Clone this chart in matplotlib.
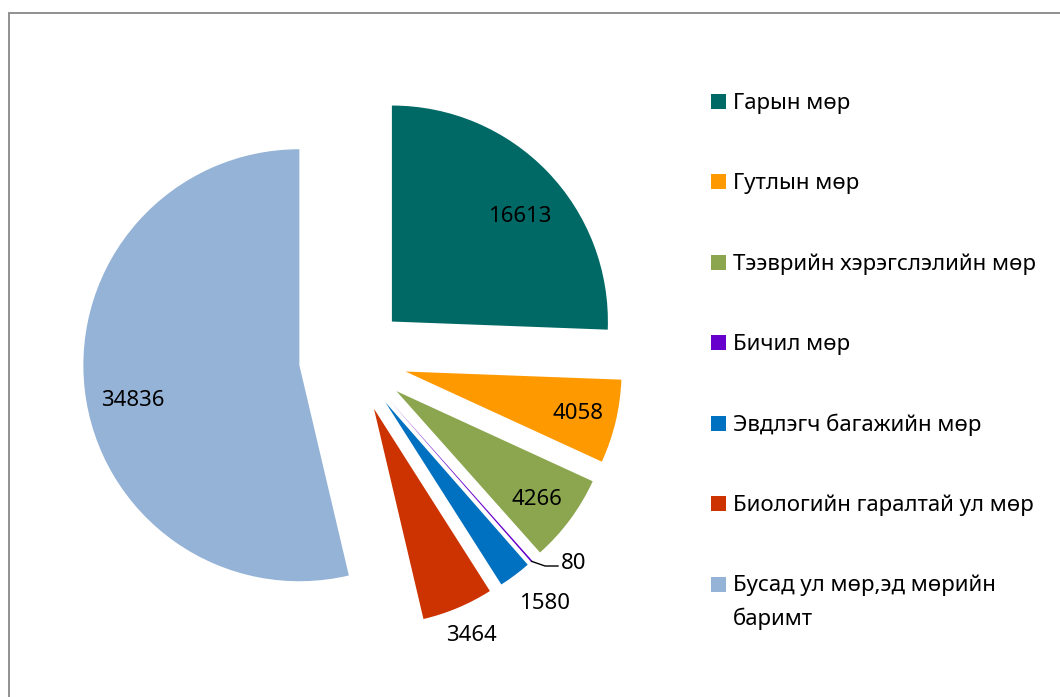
import numpy as np
import matplotlib
matplotlib.use("Agg")
import matplotlib.pyplot as plt
from matplotlib.patches import Rectangle

plt.rcParams['font.family'] = ['Noto Sans', 'DejaVu Sans']

# --- data -------------------------------------------------------------
categories = [
    "Гарын мөр",
    "Гутлын мөр",
    "Тээврийн хэрэгслэлийн мөр",
    "Бичил мөр",
    "Эвдлэгч багажийн мөр",
    "Биологийн гаралтай ул мөр",
    "Бусад ул мөр,эд мөрийн\nбаримт",
]
values = [16613, 4058, 4266, 80, 1580, 3464, 34836]
colors = ["#006865", "#FF9900", "#8BA64F", "#6600CC", "#0070C0", "#CC3300", "#95B3D7"]

# --- layout -----------------------------------------------------------
W, H, DPI = 1060, 697, 100
R_PX = 216.0                 # pie radius in pixels
CX, CY = 353.0, 359.0        # pie centre in pixels (from top-left)

fig = plt.figure(figsize=(W / DPI, H / DPI), dpi=DPI)
ax = fig.add_axes([0, 0, 1, 1])
ax.axis("off")


def px_to_data(px, py):
    return (px - CX) / R_PX, (CY - py) / R_PX


wedges, _ = ax.pie(
    values,
    colors=colors,
    explode=[0.25] * len(values),
    startangle=90,
    counterclock=False,
    radius=1.0,
    center=(0, 0),
    wedgeprops=dict(linewidth=0),
    frame=False,
)
ax.set_xlim(-CX / R_PX, (W - CX) / R_PX)
ax.set_ylim(-(H - CY) / R_PX, CY / R_PX)
ax.set_aspect("auto")

# value labels: radial distance and small angular nudge for each slice
label_r = [1.024, 1.068, 1.062, 1.386, 1.427, 1.381, 1.036]
label_dth = [-2.9, 0.6, -0.2, 6.15, 1.66, 0.45, 3.2]
digit_half = 8.5 / R_PX

for w, v, r, dth in zip(wedges, values, label_r, label_dth):
    mid = 0.5 * (w.theta1 + w.theta2)
    a = np.deg2rad(mid + dth)
    x, y = r * np.cos(a), r * np.sin(a)
    ax.text(x, y - digit_half, f"{v}", ha="center", va="baseline",
            fontsize=16.0, color="black")

# leader line for the tiny slice
small = wedges[3]
mid = np.deg2rad(0.5 * (small.theta1 + small.theta2))
sx, sy = 1.25 * np.cos(mid), 1.25 * np.sin(mid)
ex, ey = px_to_data(545, 566)
fx, fy = px_to_data(558, 566)
ax.plot([sx, ex, fx], [sy, ey, fy], color="black", lw=1.0,
        solid_joinstyle="round")

# legend, drawn row by row so the swatch sits on the first text line
row0, step, line_step = 101.0, 80.5, 34.0
for i, (lab, col) in enumerate(zip(categories, colors)):
    yc = row0 + i * step
    fig.patches.append(Rectangle((711 / W, 1 - (yc + 7.5) / H), 15 / W, 15 / H,
                                 transform=fig.transFigure, facecolor=col,
                                 edgecolor="none"))
    for j, line in enumerate(lab.split("\n")):
        base = yc + 7.5 + j * line_step
        fig.text(733 / W, 1 - base / H, line, ha="left", va="baseline",
                 fontsize=16.0, color="black")

# chart-area border
fig.patches.append(Rectangle((8.5 / W, -0.1), 1.2, 1 - 12.5 / H + 0.1,
                             transform=fig.transFigure, facecolor="none",
                             edgecolor="#888888", lw=1.3))

fig.savefig("out.png", dpi=DPI)
